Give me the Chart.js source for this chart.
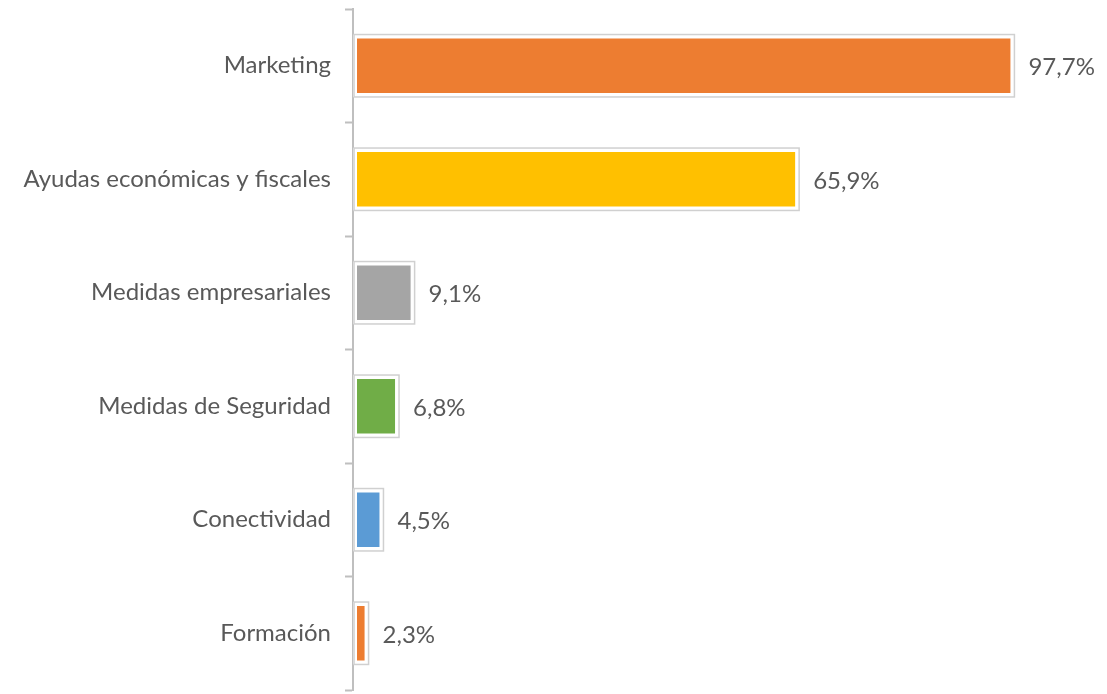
<!DOCTYPE html>
<html>
<head>
<meta charset="utf-8">
<script src="https://cdn.jsdelivr.net/npm/chart.js@4"></script>
<style>
  html, body { margin: 0; padding: 0; background: #fff; }
  #wrap { width: 1107px; height: 694px; }
</style>
</head>
<body>
<div id="wrap"><canvas id="medidasChart"></canvas></div>
<script>
const categories = ['Marketing', 'Ayudas económicas y fiscales', 'Medidas empresariales', 'Medidas de Seguridad', 'Conectividad', 'Formación'];
const values = [97.7, 65.9, 9.1, 6.8, 4.5, 2.3];
const barColors = ['#ED7D31', '#FFC000', '#A5A5A5', '#70AD47', '#5B9BD5', '#ED7D31'];

const FONT = 'Lato, "Open Sans", sans-serif';

// gray outline around each bar plus the value label
const barDecor = {
    id: 'barDecor',
    afterDatasetsDraw(chart) {
        const ctx = chart.ctx;
        const meta = chart.getDatasetMeta(0);
        ctx.save();
        meta.data.forEach((bar, i) => {
            const p = bar.getProps(['x', 'y', 'base', 'height'], true);
            ctx.strokeStyle = '#D0D0D0';
            ctx.lineWidth = 1.5;
            ctx.strokeRect(p.base + 1, p.y - p.height / 2, p.x - p.base - 1, p.height);

            ctx.fillStyle = '#595959';
            ctx.font = '24px ' + FONT;
            ctx.textAlign = 'left';
            ctx.textBaseline = 'middle';
            ctx.fillText(values[i].toFixed(1).replace('.', ',') + '%', p.x + 14, p.y + 2);
        });
        ctx.restore();
    }
};

new Chart(document.getElementById('medidasChart').getContext('2d'), {
    type: 'bar',
    data: {
        labels: categories,
        datasets: [{
            data: values,
            backgroundColor: barColors,
            borderColor: '#FFFFFF',
            borderWidth: 4,
            borderSkipped: false,
            barPercentage: 1,
            categoryPercentage: 0.55
        }]
    },
    options: {
        indexAxis: 'y',
        responsive: true,
        maintainAspectRatio: false,
        animation: false,
        layout: { padding: { top: 9, bottom: 4, right: 77, left: 0 } },
        plugins: {
            legend: { display: false },
            tooltip: { enabled: false }
        },
        scales: {
            x: {
                display: false,
                min: 0,
                max: 100
            },
            y: {
                afterFit(scale) {
                    scale.width = 353;
                    scale.paddingTop = 0;
                    scale.paddingBottom = 0;
                },
                grid: {
                    offset: true,
                    drawOnChartArea: false,
                    tickLength: 8,
                    tickWidth: 2,
                    tickColor: '#BFBFBF'
                },
                border: { color: '#BFBFBF', width: 2 },
                ticks: {
                    color: '#595959',
                    padding: 14,
                    font: { family: FONT, size: 24 }
                }
            }
        }
    },
    plugins: [barDecor]
});
</script>
</body>
</html>
